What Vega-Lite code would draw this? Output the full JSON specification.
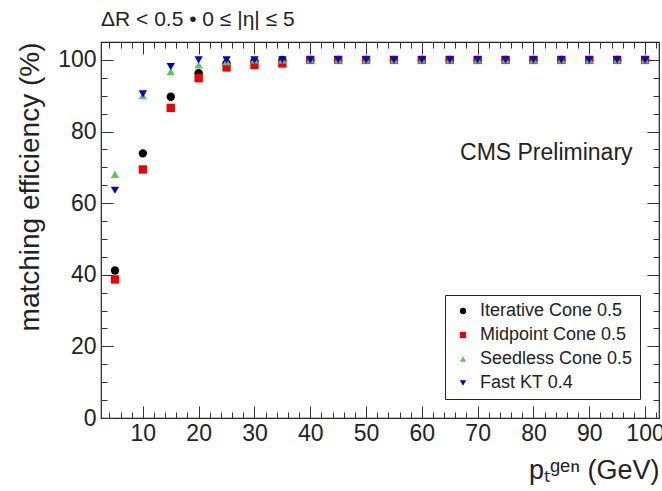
{
  "$schema": "https://vega.github.io/schema/vega-lite/v6.json",
  "width": 558,
  "height": 376,
  "autosize": "none",
  "padding": {"left": 101, "top": 42, "right": 3, "bottom": 73},
  "background": "white",
  "config": {
    "font": "Liberation Sans",
    "view": {"stroke": "#222", "strokeWidth": 1.2},
    "axis": {"grid": false, "tickColor": "#333", "domain": false, "labelFont": "Liberation Sans", "titleFont": "Liberation Sans", "labelColor": "#222", "titleColor": "#222", "titleFontWeight": "normal"}
  },
  "title": {"text": "ΔR < 0.5 • 0 ≤ |η| ≤ 5", "anchor": "start", "frame": "group", "fontSize": 21, "fontWeight": "normal", "font": "Liberation Sans", "color": "#222", "offset": 12},
  "data": {"values": [
    {"pt": 5, "series": "Iterative Cone 0.5", "eff": 41.2},
    {"pt": 10, "series": "Iterative Cone 0.5", "eff": 73.9},
    {"pt": 15, "series": "Iterative Cone 0.5", "eff": 89.7},
    {"pt": 20, "series": "Iterative Cone 0.5", "eff": 96.3},
    {"pt": 25, "series": "Iterative Cone 0.5", "eff": 99.0},
    {"pt": 30, "series": "Iterative Cone 0.5", "eff": 99.6},
    {"pt": 35, "series": "Iterative Cone 0.5", "eff": 100},
    {"pt": 40, "series": "Iterative Cone 0.5", "eff": 100},
    {"pt": 45, "series": "Iterative Cone 0.5", "eff": 100},
    {"pt": 50, "series": "Iterative Cone 0.5", "eff": 100},
    {"pt": 55, "series": "Iterative Cone 0.5", "eff": 100},
    {"pt": 60, "series": "Iterative Cone 0.5", "eff": 100},
    {"pt": 65, "series": "Iterative Cone 0.5", "eff": 100},
    {"pt": 70, "series": "Iterative Cone 0.5", "eff": 100},
    {"pt": 75, "series": "Iterative Cone 0.5", "eff": 100},
    {"pt": 80, "series": "Iterative Cone 0.5", "eff": 100},
    {"pt": 85, "series": "Iterative Cone 0.5", "eff": 100},
    {"pt": 90, "series": "Iterative Cone 0.5", "eff": 100},
    {"pt": 95, "series": "Iterative Cone 0.5", "eff": 100},
    {"pt": 100, "series": "Iterative Cone 0.5", "eff": 100},
    {"pt": 5, "series": "Midpoint Cone 0.5", "eff": 38.7},
    {"pt": 10, "series": "Midpoint Cone 0.5", "eff": 69.4},
    {"pt": 15, "series": "Midpoint Cone 0.5", "eff": 86.6},
    {"pt": 20, "series": "Midpoint Cone 0.5", "eff": 94.9},
    {"pt": 25, "series": "Midpoint Cone 0.5", "eff": 97.9},
    {"pt": 30, "series": "Midpoint Cone 0.5", "eff": 98.6},
    {"pt": 35, "series": "Midpoint Cone 0.5", "eff": 99.0},
    {"pt": 40, "series": "Midpoint Cone 0.5", "eff": 100},
    {"pt": 45, "series": "Midpoint Cone 0.5", "eff": 100},
    {"pt": 50, "series": "Midpoint Cone 0.5", "eff": 100},
    {"pt": 55, "series": "Midpoint Cone 0.5", "eff": 100},
    {"pt": 60, "series": "Midpoint Cone 0.5", "eff": 100},
    {"pt": 65, "series": "Midpoint Cone 0.5", "eff": 100},
    {"pt": 70, "series": "Midpoint Cone 0.5", "eff": 100},
    {"pt": 75, "series": "Midpoint Cone 0.5", "eff": 100},
    {"pt": 80, "series": "Midpoint Cone 0.5", "eff": 100},
    {"pt": 85, "series": "Midpoint Cone 0.5", "eff": 100},
    {"pt": 90, "series": "Midpoint Cone 0.5", "eff": 100},
    {"pt": 95, "series": "Midpoint Cone 0.5", "eff": 100},
    {"pt": 100, "series": "Midpoint Cone 0.5", "eff": 100},
    {"pt": 5, "series": "Seedless Cone 0.5", "eff": 68.0},
    {"pt": 10, "series": "Seedless Cone 0.5", "eff": 90.0},
    {"pt": 15, "series": "Seedless Cone 0.5", "eff": 96.7},
    {"pt": 20, "series": "Seedless Cone 0.5", "eff": 98.6},
    {"pt": 25, "series": "Seedless Cone 0.5", "eff": 99.5},
    {"pt": 30, "series": "Seedless Cone 0.5", "eff": 100},
    {"pt": 35, "series": "Seedless Cone 0.5", "eff": 100},
    {"pt": 40, "series": "Seedless Cone 0.5", "eff": 100},
    {"pt": 45, "series": "Seedless Cone 0.5", "eff": 100},
    {"pt": 50, "series": "Seedless Cone 0.5", "eff": 100},
    {"pt": 55, "series": "Seedless Cone 0.5", "eff": 100},
    {"pt": 60, "series": "Seedless Cone 0.5", "eff": 100},
    {"pt": 65, "series": "Seedless Cone 0.5", "eff": 100},
    {"pt": 70, "series": "Seedless Cone 0.5", "eff": 100},
    {"pt": 75, "series": "Seedless Cone 0.5", "eff": 100},
    {"pt": 80, "series": "Seedless Cone 0.5", "eff": 100},
    {"pt": 85, "series": "Seedless Cone 0.5", "eff": 100},
    {"pt": 90, "series": "Seedless Cone 0.5", "eff": 100},
    {"pt": 95, "series": "Seedless Cone 0.5", "eff": 100},
    {"pt": 100, "series": "Seedless Cone 0.5", "eff": 100},
    {"pt": 5, "series": "Fast KT 0.4", "eff": 63.6},
    {"pt": 10, "series": "Fast KT 0.4", "eff": 90.5},
    {"pt": 15, "series": "Fast KT 0.4", "eff": 98.1},
    {"pt": 20, "series": "Fast KT 0.4", "eff": 100},
    {"pt": 25, "series": "Fast KT 0.4", "eff": 100},
    {"pt": 30, "series": "Fast KT 0.4", "eff": 100},
    {"pt": 35, "series": "Fast KT 0.4", "eff": 100},
    {"pt": 40, "series": "Fast KT 0.4", "eff": 100},
    {"pt": 45, "series": "Fast KT 0.4", "eff": 100},
    {"pt": 50, "series": "Fast KT 0.4", "eff": 100},
    {"pt": 55, "series": "Fast KT 0.4", "eff": 100},
    {"pt": 60, "series": "Fast KT 0.4", "eff": 100},
    {"pt": 65, "series": "Fast KT 0.4", "eff": 100},
    {"pt": 70, "series": "Fast KT 0.4", "eff": 100},
    {"pt": 75, "series": "Fast KT 0.4", "eff": 100},
    {"pt": 80, "series": "Fast KT 0.4", "eff": 100},
    {"pt": 85, "series": "Fast KT 0.4", "eff": 100},
    {"pt": 90, "series": "Fast KT 0.4", "eff": 100},
    {"pt": 95, "series": "Fast KT 0.4", "eff": 100},
    {"pt": 100, "series": "Fast KT 0.4", "eff": 100}
  ]},
  "resolve": {"axis": {"x": "independent", "y": "independent"}},
  "layer": [
    {
      "mark": {"type": "point", "filled": true, "opacity": 1},
      "encoding": {
        "x": {"field": "pt", "type": "quantitative", "scale": {"domain": [2.5, 102.5], "nice": false, "zero": false},
          "axis": {"orient": "bottom", "values": [10, 20, 30, 40, 50, 60, 70, 80, 90, 100], "tickSize": -12, "labelFontSize": 23, "labelPadding": 16, "title": "pₜᵍᵉⁿ (GeV)", "titleFontSize": 27, "titleAnchor": "end", "titlePadding": 12}},
        "y": {"field": "eff", "type": "quantitative", "scale": {"domain": [0, 105], "nice": false},
          "axis": {"orient": "left", "values": [0, 20, 40, 60, 80, 100], "tickSize": -12, "labelFontSize": 23, "labelPadding": 17, "title": "matching efficiency (%)", "titleFontSize": 28, "titleAnchor": "end", "titlePadding": 13}},
        "color": {"field": "series", "type": "nominal",
          "scale": {"domain": ["Iterative Cone 0.5", "Midpoint Cone 0.5", "Seedless Cone 0.5", "Fast KT 0.4"], "range": ["#000000", "#ee0000", "#55cc55", "#0000cc"]},
          "legend": {"title": null, "orient": "bottom-right", "offset": 19, "labelFontSize": 18, "labelFont": "Liberation Sans", "labelColor": "#222", "symbolSize": 40, "rowPadding": 6, "padding": 7, "strokeColor": "#222", "fillColor": "white", "labelOffset": 8, "symbolOffset": 2, "labelLimit": 300}},
        "shape": {"field": "series", "type": "nominal",
          "scale": {"domain": ["Iterative Cone 0.5", "Midpoint Cone 0.5", "Seedless Cone 0.5", "Fast KT 0.4"], "range": ["circle", "square", "triangle-up", "triangle-down"]},
          "legend": null},
        "size": {"value": 70}
      }
    },
    {
      "mark": {"type": "point", "opacity": 0},
      "encoding": {
        "x": {"field": "pt", "type": "quantitative", "axis": {"orient": "bottom", "values": [4, 6, 8, 12, 14, 16, 18, 22, 24, 26, 28, 32, 34, 36, 38, 42, 44, 46, 48, 52, 54, 56, 58, 62, 64, 66, 68, 72, 74, 76, 78, 82, 84, 86, 88, 92, 94, 96, 98, 102], "tickSize": -6, "labels": false, "title": null}},
        "y": {"field": "eff", "type": "quantitative", "axis": {"orient": "left", "values": [5, 10, 15, 25, 30, 35, 45, 50, 55, 65, 70, 75, 85, 90, 95], "tickSize": -6, "labels": false, "title": null}}
      }
    },
    {
      "mark": {"type": "point", "opacity": 0},
      "encoding": {
        "x": {"field": "pt", "type": "quantitative", "axis": {"orient": "top", "values": [10, 20, 30, 40, 50, 60, 70, 80, 90, 100], "tickSize": -12, "labels": false, "title": null}},
        "y": {"field": "eff", "type": "quantitative", "axis": {"orient": "right", "values": [0, 20, 40, 60, 80, 100], "tickSize": -12, "labels": false, "title": null}}
      }
    },
    {
      "mark": {"type": "point", "opacity": 0},
      "encoding": {
        "x": {"field": "pt", "type": "quantitative", "axis": {"orient": "top", "values": [4, 6, 8, 12, 14, 16, 18, 22, 24, 26, 28, 32, 34, 36, 38, 42, 44, 46, 48, 52, 54, 56, 58, 62, 64, 66, 68, 72, 74, 76, 78, 82, 84, 86, 88, 92, 94, 96, 98, 102], "tickSize": -6, "labels": false, "title": null}},
        "y": {"field": "eff", "type": "quantitative", "axis": {"orient": "right", "values": [5, 10, 15, 25, 30, 35, 45, 50, 55, 65, 70, 75, 85, 90, 95], "tickSize": -6, "labels": false, "title": null}}
      }
    },
    {
      "data": {"values": [{"label": "CMS Preliminary"}]},
      "mark": {"type": "text", "fontSize": 23, "font": "Liberation Sans", "color": "#222", "align": "center", "baseline": "middle"},
      "encoding": {"x": {"datum": 82.3, "axis": null}, "y": {"datum": 74, "axis": null}, "text": {"field": "label"}}
    }
  ]
}
